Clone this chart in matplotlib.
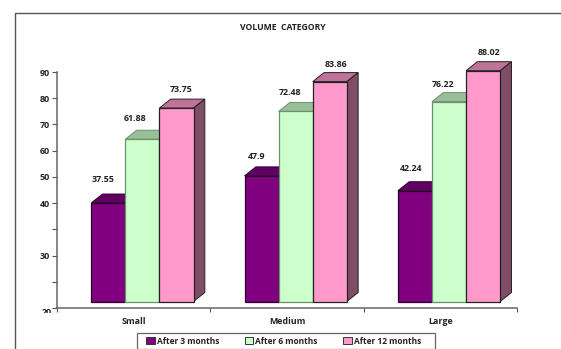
import matplotlib
matplotlib.use('Agg')
import matplotlib.pyplot as plt
from matplotlib.lines import Line2D
from matplotlib.patches import Patch, Polygon, Rectangle
from matplotlib.transforms import Bbox, offset_copy

categories = ['Small', 'Medium', 'Large']
after_3 = [37.55, 47.9, 42.24]
after_6 = [61.88, 72.48, 76.22]
after_12 = [73.75, 83.86, 88.02]
series_names = ['After 3 months', 'After 6 months', 'After 12 months']
tick_values = [0, 10, 20, 30, 40, 50, 60, 70, 80, 90]
tick_labels = ['', '', '30', '', '40', '50', '60', '70', '80', '90']

front_colors = ['#800080', '#CCFFCC', '#FF99CC']
top_colors = ['#600060', '#99BF99', '#BF7399']
side_colors = ['#400040', '#668066', '#804C66']
edge_colors = ['#2a002a', '#6f8f6f', '#222222']
label_dx = [[-5, -5, -4], [-7, -6, -6], [5, 6, 6]]
label_lift = [[24, 19, 22], [21, 19, 17], [19, 17, 18]]

W, H = 561, 349
fig = plt.figure(figsize=(W / 100, H / 100), dpi=100, facecolor='white')
plt.rcParams['font.family'] = ['Open Sans', 'DejaVu Sans']

ax = fig.add_axes([57 / W, 1 - 308 / H, 460 / W, 236 / H])
ax.set_xlim(0, 3)
ax.set_ylim(0, 90)
ax.patch.set_visible(False)

# outer frame runs off the right and bottom edges
fig.add_artist(Line2D([15 / W, 15 / W, 1], [0, 1 - 12.5 / H, 1 - 12.5 / H],
                      color='#555555', lw=1.0))

px_x = 3 / 460
px_y = 90 / 236
bar_w = 34.1 * px_x
depth_x = 11.3 * px_x
depth_y = 9 * px_y
front = offset_copy(ax.transData, fig=fig, x=8.7, y=6.5, units='dots')

for s, values in enumerate([after_3, after_6, after_12]):
    for c, v in enumerate(values):
        x0 = c + 0.5 + (s - 1.5) * bar_w
        x1 = x0 + bar_w
        z = 2 + s
        ax.bar(x0, v, bar_w, align='edge', color=front_colors[s], edgecolor=edge_colors[s],
               lw=0.9, transform=front, clip_on=False, zorder=z + 0.2)
        ax.add_patch(Polygon([(x0, v), (x0 + depth_x, v + depth_y), (x1 + depth_x, v + depth_y), (x1, v)],
                             fc=top_colors[s], ec=edge_colors[s], lw=0.7,
                             transform=front, clip_on=False, zorder=z))
        ax.add_patch(Polygon([(x1, 0), (x1 + depth_x, depth_y), (x1 + depth_x, v + depth_y), (x1, v)],
                             fc=side_colors[s], ec='#222222', lw=0.7,
                             transform=front, clip_on=False, zorder=z))
        ax.annotate(str(v), xy=(x0 + bar_w / 2, v), xycoords=front,
                    xytext=(label_dx[s][c] * 0.72, label_lift[s][c] * 0.72), textcoords='offset points',
                    ha='center', va='center', fontsize=6.4, fontweight='bold', color='#222222',
                    zorder=10)

for side in ['top', 'right']:
    ax.spines[side].set_visible(False)
for side in ['left', 'bottom']:
    ax.spines[side].set_color('#666666')
    ax.spines[side].set_linewidth(1.1)

ax.set_yticks(tick_values)
ax.set_yticklabels(tick_labels)
ax.set_xticks([0, 1, 2, 3])
ax.set_xticklabels([])
ax.set_xticks([0.5, 1.5, 2.5], minor=True)
ax.set_xticklabels(categories, minor=True)
ax.tick_params(axis='x', which='major', length=3, width=0.8, color='#555555')
ax.tick_params(axis='x', which='minor', length=0, pad=6.5, labelsize=6.4, labelcolor='#222222')
ax.tick_params(axis='y', length=3.5, width=0.8, color='#555555', pad=1.5, labelsize=6.4, labelcolor='#222222')
for lab in ax.get_xticklabels(minor=True) + ax.get_yticklabels():
    lab.set_fontweight('bold')

# lowest axis label sits low and is cut off just below the axis line
low_label = fig.text(52 / W, 1 - 312.5 / H, '20', ha='right', va='center',
                     fontsize=6.4, fontweight='bold', color='#222222')
low_label.set_clip_box(Bbox.from_extents(30, H - 313, 60, H - 300))
low_label.set_clip_on(True)

fig.text(282.5 / W, 1 - 27.5 / H, 'VOLUME  CATEGORY', ha='center', va='center',
         fontsize=6.2, fontweight='bold', color='#222222')

fig.add_artist(Rectangle((137 / W, 1 - 348.5 / H), 298 / W, 15.5 / H, fc='white',
                         ec='#666666', lw=0.9, transform=fig.transFigure))
handles = [Patch(fc=front_colors[i], ec='#333333', lw=0.7) for i in range(3)]
leg = fig.legend(handles, series_names, ncols=3, loc='center',
                 bbox_to_anchor=(283.5 / W, 1 - 341 / H), bbox_transform=fig.transFigure,
                 frameon=False, fontsize=6.05, handlelength=1.0, handleheight=1.0, handletextpad=0.25,
                 columnspacing=3.05, borderpad=0, borderaxespad=0)
for t in leg.get_texts():
    t.set_fontweight('bold')
    t.set_color('#222222')

fig.savefig('out.png', dpi=100)
